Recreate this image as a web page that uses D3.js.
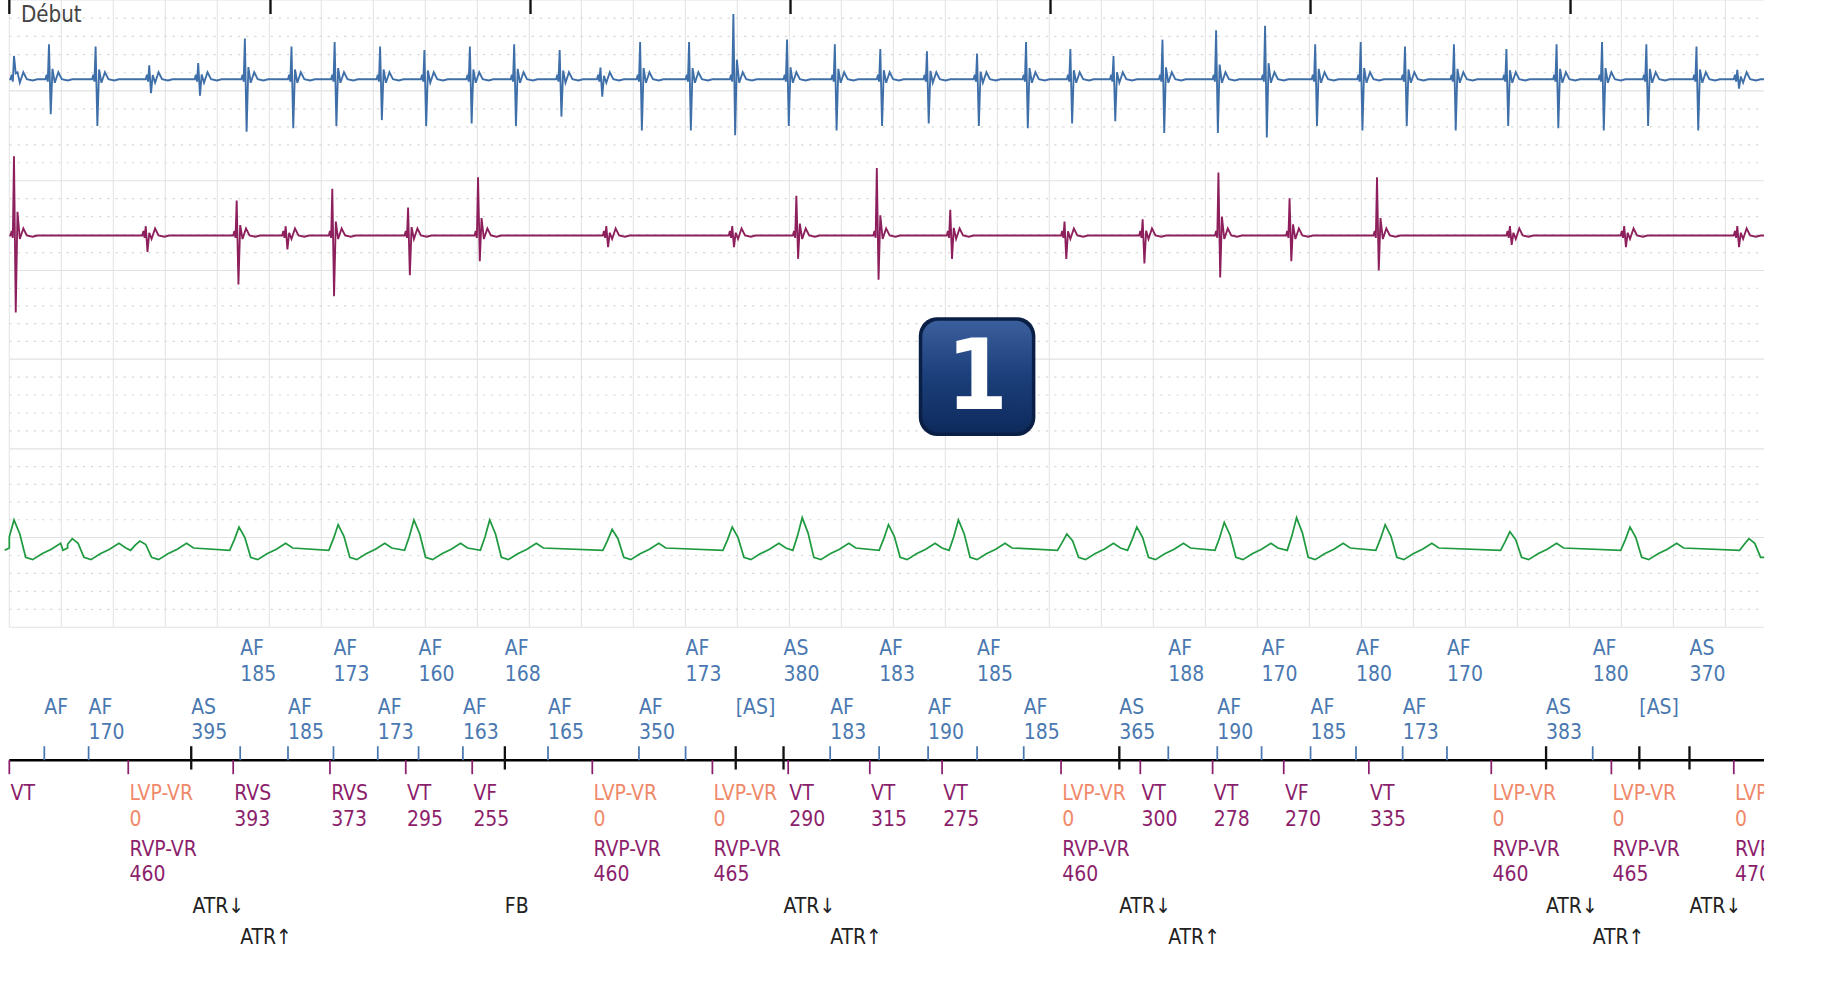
<!DOCTYPE html><html><head><meta charset="utf-8">
<script src="https://cdn.jsdelivr.net/npm/d3@7"></script>
<style>body{margin:0;background:#fff}text{font-family:"DejaVu Sans Condensed","DejaVu Sans",sans-serif}</style></head><body>
<svg id="c" width="1827" height="1008"></svg>
<script>
const blueBeats=[[12,20,-5],[42,30,30],[82,28,40],[128,12,12],[170,14,14],[210,35,45],[250,28,42],[287,32,40],[326,28,35],[364,25,40],[403,28,38],[441,30,40],[480,25,32],[515,10,15],[549,32,44],[591,32,44],[629,56,48],[675,34,40],[716,30,44],[755,26,40],[795,24,38],[838,22,40],[880,32,42],[918,26,38],[955,20,36],[997,34,46],[1043,42,46],[1085,46,50],[1128,30,40],[1167,32,44],[1205,28,40],[1247,30,44],[1292,26,40],[1335,30,42],[1374,32,44],[1412,30,40],[1455,28,44],[1490,8,8]];
const maroonBeats=[[12,68,66],[125,8,14],[203,30,42],[245,8,12],[285,40,52],[350,24,34],[410,50,22],[520,8,10],[628,8,10],[683,34,20],[752,58,38],[815,22,20],[913,12,20],[980,14,24],[1045,54,36],[1106,32,22],[1181,50,30],[1295,8,8],[1393,8,10],[1490,8,10]];
const greenBeats=[[12,24],[62,8],[120,6],[205,18],[290,20],[355,24],[420,24],[525,16],[628,18],[688,26],[762,20],[822,24],[915,12],[975,18],[1050,22],[1112,26],[1188,20],[1295,14],[1398,18],[1500,8]];
const atrialLow=[["AF","",38,0],["AF","170",76,0],["AS","395",164,1],["AF","185",247,0],["AF","173",324,0],["AF","163",397,0],["AF","165",470,0],["AF","350",548,0],["[AS]","",631,1],["AF","183",712,0],["AF","190",796,0],["AF","185",878,0],["AS","365",960,1],["AF","190",1044,0],["AF","185",1124,0],["AF","173",1203,0],["AS","383",1326,1],["[AS]","",1406,1]];
const atrialHigh=[["AF","185",206,0],["AF","173",286,0],["AF","160",359,0],["AF","168",433,1],["AF","173",588,0],["AS","380",672,1],["AF","183",754,0],["AF","185",838,0],["AF","188",1002,0],["AF","170",1082,0],["AF","180",1163,0],["AF","170",1241,0],["AF","180",1366,0],["AS","370",1449,1]];
const ventr=[["VT","",8],["LVP-VR","0",110,"460"],["RVS","393",200],["RVS","373",283],["VT","295",348],["VF","255",405],["LVP-VR","0",508,"460"],["LVP-VR","0",611,"465"],["VT","290",676],["VT","315",746],["VT","275",808],["LVP-VR","0",910,"460"],["VT","300",978],["VT","278",1040],["VF","270",1101],["VT","335",1174],["LVP-VR","0",1279,"460"],["LVP-VR","0",1382,"465"],["LVP-VR","0",1487,"470"]];
const atrDown=[165,672,960,1326,1449], atrUp=[206,712,1002,1366], fb=[433];

const k=1827/1545*0.986;
const svg=d3.select("#c");
svg.append("defs").html(`<clipPath id="cp"><rect x="0" y="0" width="1513" height="900"/></clipPath>
<linearGradient id="bg" x1="0" y1="0" x2="0" y2="1"><stop offset="0" stop-color="#3a5f9c"/><stop offset="0.5" stop-color="#1b3f7a"/><stop offset="1" stop-color="#0e2a5c"/></linearGradient>`);
const g=svg.append("g").attr("transform",`scale(${k})`).attr("clip-path","url(#cp)");
const x=d3.scaleLinear().domain([0,1545]).range([0,1545]);
const L=8,R=1513;
for(let i=0;L+i*44.6<=R+1;i++){g.append("line").attr("x1",x(L+i*44.6)).attr("x2",x(L+i*44.6)).attr("y1",0).attr("y2",538).attr("stroke","#e6e6e6");}
const majors=[0,78,155,232,308,385,461,538];
majors.forEach(y=>g.append("line").attr("x1",L).attr("x2",R).attr("y1",y).attr("y2",y).attr("stroke","#e2e2e2"));
for(let j=0;j<majors.length-1;j++){for(let s=1;s<5;s++){const y=majors[j]+(majors[j+1]-majors[j])*s/5;
 g.append("line").attr("x1",L).attr("x2",R).attr("y1",y).attr("y2",y).attr("stroke","#d8d8d8").attr("stroke-dasharray","2,5");}}
[8,232,455,678,901,1124,1347].forEach(t=>g.append("line").attr("x1",x(t)).attr("x2",x(t)).attr("y1",0).attr("y2",12).attr("stroke","#111").attr("stroke-width",2));
g.append("text").attr("x",18).attr("y",19).attr("font-size",19).attr("fill","#444").text("Début");
const line=d3.line().x(d=>x(d[0])).y(d=>d[1]);
function spiky(beats,base){const pts=[[L,base]];beats.forEach(([t,u,dn])=>{pts.push([t-3,base],[t-2,base-4],[t-1,base+2],[t,base-u],[t+1.5,base+dn],[t+3,base-u*0.3],[t+5,base+3],[t+8,base-6],[t+11,base],[t+16,base+1],[t+20,base]);});pts.push([R,base]);return pts;}
g.append("path").attr("d",line(spiky(blueBeats,68))).attr("fill","none").attr("stroke","#3f6fa8").attr("stroke-width",1.6);
g.append("path").attr("d",line(spiky(maroonBeats,202))).attr("fill","none").attr("stroke","#8c1f5c").attr("stroke-width",1.6);
function waves(beats,base){const pts=[[L,base]];beats.forEach(([t,a])=>{pts.push([t-8,base+2],[t-4,base-a*0.4],[t,base-a],[t+5,base-a*0.5],[t+10,base+8],[t+16,base+10],[t+24,base+5],[t+32,base+1],[t+40,base-4],[t+46,base]);});pts.push([R,base+8]);return pts.sort((a,b)=>a[0]-b[0]);}
g.append("path").attr("d",line(waves(greenBeats,470))).attr("fill","none").attr("stroke","#1f9a40").attr("stroke-width",1.5);
const b=g.append("g").attr("transform","translate(838,323)");
b.append("rect").attr("x",-50).attr("y",-51).attr("width",100).attr("height",102).attr("rx",16).attr("fill","#0a1f45");
b.append("rect").attr("x",-47).attr("y",-48).attr("width",94).attr("height",96).attr("rx",14).attr("fill","url(#bg)");
b.append("text").attr("text-anchor","middle").attr("y",28).attr("font-size",84).attr("font-weight","bold").attr("fill","#fff").attr("font-family","DejaVu Sans").text("1");
const ay=652;
g.append("line").attr("x1",L).attr("x2",R).attr("y1",ay).attr("y2",ay).attr("stroke","#000").attr("stroke-width",2.2);
const blue="#4a78b0",mar="#8c1f6c",sal="#f0896a";
function atr(arr,y1){arr.forEach(([a,v,t,as])=>{
 g.append("line").attr("x1",x(t)).attr("x2",x(t)).attr("y1",ay-12).attr("y2",as?ay+8:ay).attr("stroke",as?"#111":blue).attr("stroke-width",as?2:1.5);
 g.append("text").attr("x",x(t)).attr("y",y1).attr("font-size",18).attr("fill",blue).text(a);
 if(v)g.append("text").attr("x",x(t)).attr("y",y1+22).attr("font-size",18).attr("fill",blue).text(v);});}
atr(atrialLow,612);atr(atrialHigh,562);
ventr.forEach(([a,v,t,r])=>{
 g.append("line").attr("x1",x(t)).attr("x2",x(t)).attr("y1",ay).attr("y2",ay+12).attr("stroke",mar).attr("stroke-width",1.5);
 const c=a.startsWith("LVP")?sal:mar;
 g.append("text").attr("x",x(t)+1).attr("y",686).attr("font-size",18).attr("fill",c).text(a);
 if(v)g.append("text").attr("x",x(t)+1).attr("y",708).attr("font-size",18).attr("fill",c).text(v);
 if(r){g.append("text").attr("x",x(t)+1).attr("y",734).attr("font-size",18).attr("fill",mar).text("RVP-VR");
  g.append("text").attr("x",x(t)+1).attr("y",756).attr("font-size",18).attr("fill",mar).text(r);}});
atrDown.forEach(t=>g.append("text").attr("x",x(t)).attr("y",783).attr("font-size",18).attr("fill","#222").text("ATR↓"));
atrUp.forEach(t=>g.append("text").attr("x",x(t)).attr("y",810).attr("font-size",18).attr("fill","#222").text("ATR↑"));
fb.forEach(t=>g.append("text").attr("x",x(t)).attr("y",783).attr("font-size",18).attr("fill","#222").text("FB"));
</script></body></html>
